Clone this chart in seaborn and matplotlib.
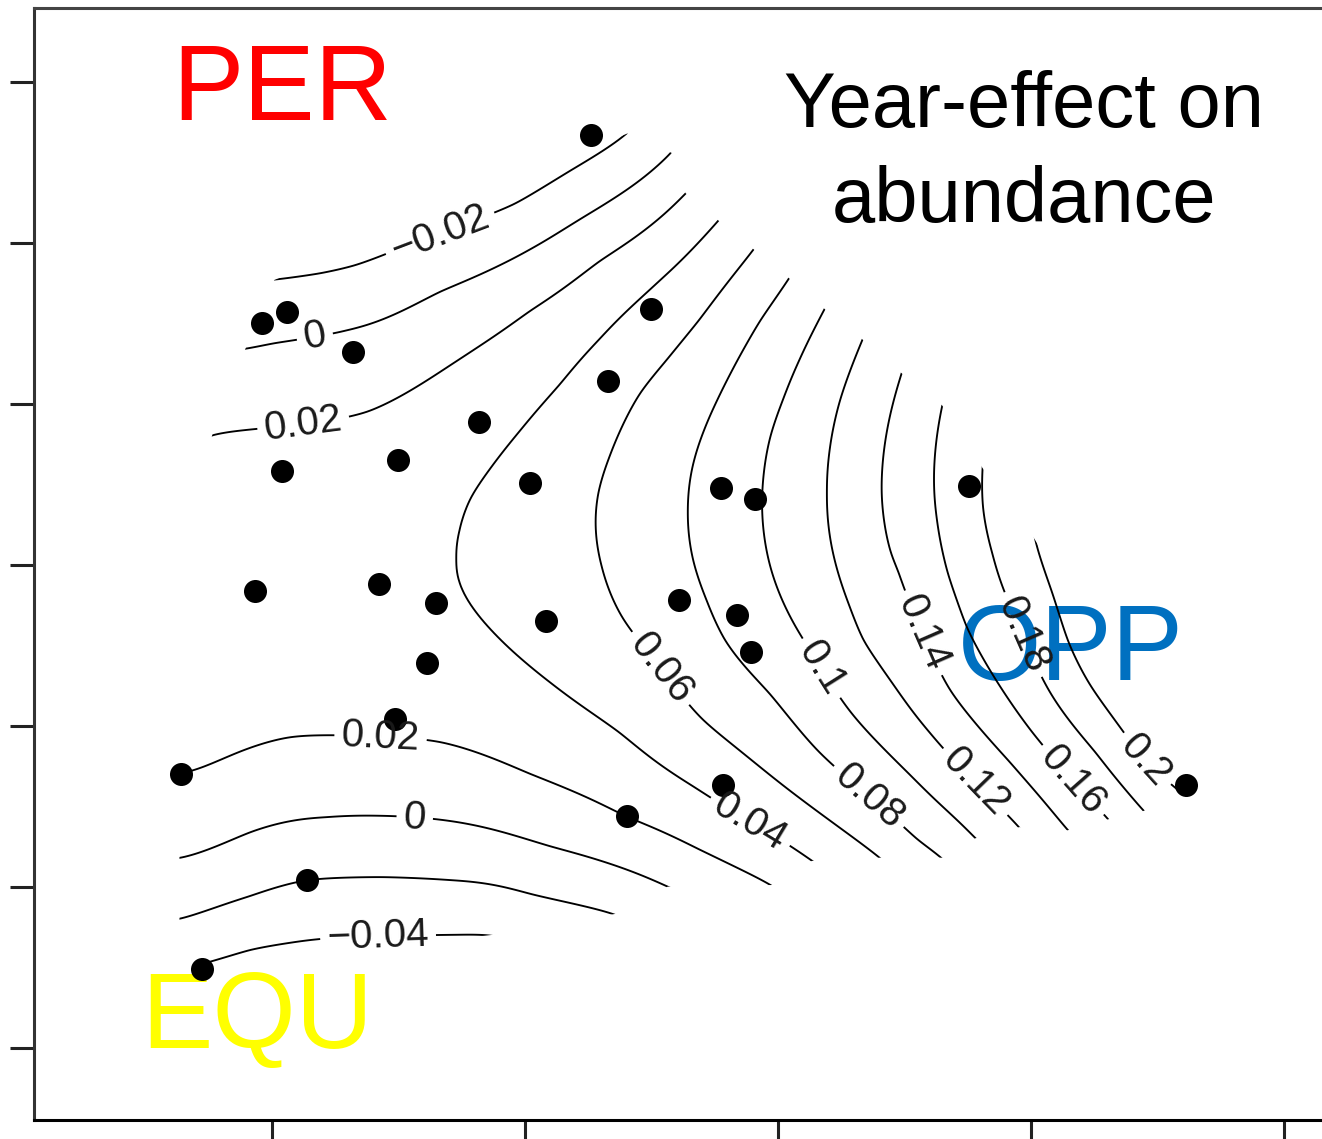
import numpy as np
import pandas as pd
import matplotlib
matplotlib.use("Agg")
import matplotlib.pyplot as plt
from matplotlib.patches import Polygon
import seaborn as sns

# ---------------------------------------------------------------
# Sites in ordination space (axis 1, axis 2)
# ---------------------------------------------------------------
site_x = [-0.148, -0.408, -0.388, -0.336, -0.100, -0.134, -0.236, -0.392,
          -0.300, -0.196, -0.045, -0.018, 0.151, -0.413, -0.315, -0.270,
          -0.183, -0.078, -0.032, -0.021, -0.277, -0.303, -0.472, -0.119,
          -0.043, -0.372, -0.455, 0.323]
site_y = [0.267, 0.150, 0.157, 0.132, 0.159, 0.114, 0.089, 0.058,
          0.065, 0.051, 0.048, 0.041, 0.049, -0.016, -0.012, -0.024,
          -0.035, -0.022, -0.031, -0.054, -0.061, -0.096, -0.130, -0.156,
          -0.137, -0.196, -0.251, -0.137]

# ---------------------------------------------------------------
# Isolines of the smoothed year effect on abundance (x, y) per level
# ---------------------------------------------------------------
levels = [-0.04, -0.02, 0.0, 0.02, 0.04, 0.06, 0.08, 0.10, 0.12, 0.14, 0.16, 0.18, 0.20]

iso_m04 = [(-0.461, -0.249), (-0.417, -0.239), (-0.386, -0.235), (-0.316, -0.231),
           (-0.254, -0.230), (-0.226, -0.230)]
iso_m02_upper = [(-0.398, 0.177), (-0.362, 0.181), (-0.334, 0.186), (-0.267, 0.206),
                 (-0.208, 0.224), (-0.164, 0.245), (-0.119, 0.268)]
iso_m02_lower = [(-0.471, -0.220), (-0.417, -0.206), (-0.374, -0.196), (-0.312, -0.194),
                 (-0.259, -0.196), (-0.194, -0.205), (-0.129, -0.217)]
iso_0_upper = [(-0.421, 0.134), (-0.398, 0.138), (-0.366, 0.142), (-0.340, 0.146),
               (-0.267, 0.170), (-0.196, 0.196), (-0.141, 0.222), (-0.084, 0.256)]
iso_0_lower = [(-0.471, -0.182), (-0.417, -0.166), (-0.357, -0.157), (-0.315, -0.156),
               (-0.287, -0.157), (-0.261, -0.159), (-0.180, -0.175), (-0.087, -0.200)]
iso_02_upper = [(-0.447, 0.081), (-0.429, 0.083), (-0.378, 0.087), (-0.324, 0.095),
                (-0.259, 0.124), (-0.196, 0.158), (-0.141, 0.189), (-0.073, 0.231)]
iso_02_lower = [(-0.472, -0.130), (-0.425, -0.116), (-0.386, -0.107), (-0.362, -0.106),
                (-0.314, -0.107), (-0.267, -0.110), (-0.196, -0.130), (-0.119, -0.157),
                (-0.062, -0.177), (-0.005, -0.199)]
iso_04 = [(-0.047, 0.214), (-0.093, 0.177), (-0.141, 0.140), (-0.172, 0.112),
          (-0.204, 0.083), (-0.228, 0.059), (-0.243, 0.042), (-0.251, 0.022),
          (-0.253, 0.004), (-0.249, -0.016), (-0.237, -0.031), (-0.212, -0.052),
          (-0.180, -0.073), (-0.125, -0.104), (-0.066, -0.138), (-0.022, -0.160),
          (0.027, -0.184)]
iso_06 = [(-0.019, 0.196), (-0.062, 0.152), (-0.088, 0.127), (-0.109, 0.107),
          (-0.133, 0.067), (-0.142, 0.045), (-0.144, 0.024), (-0.139, -0.001),
          (-0.123, -0.033), (-0.092, -0.064), (-0.060, -0.096), (0.009, -0.140),
          (0.081, -0.182)]
iso_08 = [(0.009, 0.178), (-0.014, 0.152), (-0.032, 0.127), (-0.048, 0.102),
          (-0.059, 0.082), (-0.068, 0.059), (-0.071, 0.034), (-0.067, 0.003),
          (-0.056, -0.022), (-0.042, -0.047), (-0.006, -0.080), (0.032, -0.116),
          (0.072, -0.144), (0.110, -0.171), (0.130, -0.182)]
iso_10 = [(0.037, 0.159), (0.017, 0.127), (0.004, 0.102), (-0.006, 0.080),
          (-0.011, 0.057), (-0.012, 0.028), (-0.006, -0.001), (0.013, -0.037),
          (0.035, -0.064), (0.058, -0.092), (0.104, -0.130), (0.156, -0.170)]
iso_12 = [(0.067, 0.140), (0.049, 0.102), (0.041, 0.071), (0.039, 0.045),
          (0.045, 0.003), (0.057, -0.026), (0.067, -0.047), (0.092, -0.075),
          (0.120, -0.104), (0.156, -0.135), (0.191, -0.163)]
iso_14 = [(0.098, 0.119), (0.087, 0.086), (0.082, 0.045), (0.089, 0.007),
          (0.096, -0.004), (0.116, -0.042), (0.136, -0.078), (0.183, -0.122),
          (0.229, -0.165)]
iso_16 = [(0.130, 0.099), (0.124, 0.065), (0.126, 0.028), (0.134, -0.005),
          (0.149, -0.039), (0.172, -0.071), (0.201, -0.104), (0.233, -0.134),
          (0.262, -0.158)]
iso_18 = [(0.162, 0.060), (0.162, 0.036), (0.170, 0.007), (0.195, -0.043),
          (0.215, -0.079), (0.251, -0.116), (0.289, -0.153)]
iso_20 = [(0.203, 0.016), (0.217, -0.017), (0.229, -0.047), (0.247, -0.075),
          (0.266, -0.096), (0.290, -0.122), (0.320, -0.142)]

# effect along the ridge between the two 0.02 isolines (x, y, effect)
ridge = [(-0.457, -0.016, 0.032), (-0.378, -0.016, 0.035), (-0.307, -0.012, 0.038)]

# area covered by the sites, where the smooth is shown
fit_region = [(-0.398, 0.177), (-0.119, 0.268), (-0.084, 0.256), (-0.073, 0.231),
              (-0.047, 0.214), (-0.019, 0.196), (0.009, 0.178), (0.037, 0.159),
              (0.067, 0.140), (0.098, 0.119), (0.130, 0.099), (0.162, 0.060),
              (0.203, 0.016), (0.320, -0.142), (0.289, -0.153), (0.262, -0.158),
              (0.229, -0.165), (0.191, -0.163), (0.156, -0.170), (0.130, -0.182),
              (0.081, -0.182), (0.027, -0.184), (-0.005, -0.199), (-0.087, -0.200),
              (-0.129, -0.217), (-0.226, -0.230), (-0.461, -0.250), (-0.473, -0.221),
              (-0.473, 0.003), (-0.447, 0.081), (-0.421, 0.134)]

# where each isoline carries its value
label_at = [(-0.316, -0.231), (-0.267, 0.206), (-0.366, 0.142), (-0.287, -0.157),
            (-0.375, 0.087), (-0.314, -0.107), (-0.022, -0.160), (-0.092, -0.064),
            (0.072, -0.144), (0.035, -0.064), (0.156, -0.135), (0.116, -0.042),
            (0.233, -0.134), (0.195, -0.043), (0.290, -0.122)]

# ---------------------------------------------------------------
# Build the sample table and the thin-plate surface
# ---------------------------------------------------------------
traces = [(-0.04, iso_m04), (-0.02, iso_m02_upper), (-0.02, iso_m02_lower),
          (0.0, iso_0_upper), (0.0, iso_0_lower), (0.02, iso_02_upper),
          (0.02, iso_02_lower), (0.04, iso_04), (0.06, iso_06), (0.08, iso_08),
          (0.10, iso_10), (0.12, iso_12), (0.14, iso_14), (0.16, iso_16),
          (0.18, iso_18), (0.20, iso_20)]
rows = [(x, y, lv) for lv, pts in traces for x, y in pts] + ridge
samples = pd.DataFrame(rows, columns=["x", "y", "effect"])


def thin_plate(xs, ys, zs, lam=3e-4):
    n = len(xs)
    r = np.hypot(xs[:, None] - xs[None, :], ys[:, None] - ys[None, :])
    K = np.where(r > 0, r ** 2 * np.log(np.where(r > 0, r, 1.0)), 0.0)
    A = np.zeros((n + 3, n + 3))
    A[:n, :n] = K + lam * np.eye(n)
    A[:n, n] = 1.0
    A[:n, n + 1] = xs
    A[:n, n + 2] = ys
    A[n:, :n] = A[:n, n:].T
    sol = np.linalg.solve(A, np.r_[zs, 0.0, 0.0, 0.0])
    w, a = sol[:n], sol[n:]

    def evaluate(qx, qy):
        fx, fy = qx.ravel(), qy.ravel()
        out = np.empty(fx.size)
        step = 4000
        for s in range(0, fx.size, step):
            ex, ey = fx[s:s + step], fy[s:s + step]
            rr = np.hypot(ex[:, None] - xs[None, :], ey[:, None] - ys[None, :])
            kk = np.where(rr > 0, rr ** 2 * np.log(np.where(rr > 0, rr, 1.0)), 0.0)
            out[s:s + step] = kk @ w + a[0] + a[1] * ex + a[2] * ey
        return out.reshape(qx.shape)

    return evaluate


surface = thin_plate(samples["x"].to_numpy(), samples["y"].to_numpy(),
                     samples["effect"].to_numpy())
gx, gy = np.meshgrid(np.linspace(-0.50, 0.36, 330), np.linspace(-0.28, 0.30, 260))
gz = surface(gx, gy)

# ---------------------------------------------------------------
# Figure
# ---------------------------------------------------------------
sns.set_theme(style="white")
plt.rcParams["font.family"] = ["Liberation Sans", "DejaVu Sans"]
plt.rcParams["contour.negative_linestyle"] = "solid"

W, H = 1322, 1139
fig = plt.figure(figsize=(W / 100, H / 100), dpi=100)
ax = fig.add_axes([34 / W, 19 / H, 1313 / W, 1112 / H])
ax.set_xlim(-0.588, 0.450)
ax.set_ylim(-0.345, 0.346)

region_patch = Polygon(fit_region, closed=True, transform=ax.transData,
                       facecolor="none", edgecolor="none")
ax.add_patch(region_patch)

cs = ax.contour(gx, gy, gz, levels=levels, colors="black", linewidths=1.35,
                linestyles="solid", zorder=2)
cs.set_clip_path(region_patch)


def fmt_level(v):
    v = round(v, 2) + 0.0
    return f"{v:g}".replace("-", "\u2212")


ax.clabel(cs, levels=levels, fmt=fmt_level, manual=label_at, inline=True,
          inline_spacing=7, fontsize=29, colors="#1a1a1a")

sites = pd.DataFrame({"axis1": site_x, "axis2": site_y})
sns.scatterplot(data=sites, x="axis1", y="axis2", color="black", s=275,
                linewidth=0, ax=ax, zorder=3, legend=False)

# group labels and title
tf = fig.transFigure
ax.text(172 / W, 1 - 120 / H, "PER", transform=tf, fontsize=77, color="#FF0000",
        ha="left", va="baseline", zorder=1.5)
ax.text(141 / W, 1 - 1048 / H, "EQU", transform=tf, fontsize=77, color="#FFFF00",
        ha="left", va="baseline", zorder=1.5)
ax.text(958 / W, 1 - 680 / H, "OPP", transform=tf, fontsize=77, color="#0070C0",
        ha="left", va="baseline", zorder=1.5)
ax.text(1024 / W, 1 - 127 / H, "Year-effect on", transform=tf, fontsize=56,
        color="black", ha="center", va="baseline", zorder=1.5)
ax.text(1024 / W, 1 - 222 / H, "abundance", transform=tf, fontsize=56,
        color="black", ha="center", va="baseline", zorder=1.5)

# axes frame and ticks
ax.set_xticks([-0.4, -0.2, 0.0, 0.2, 0.4])
ax.set_yticks([-0.3, -0.2, -0.1, 0.0, 0.1, 0.2, 0.3])
ax.set_xticklabels([])
ax.set_yticklabels([])
ax.set_xlabel("")
ax.set_ylabel("")
ax.tick_params(axis="both", direction="out", length=17, width=2.2, color="#222222",
               left=True, bottom=True)
for side in ["top", "left", "bottom", "right"]:
    ax.spines[side].set_linewidth(2.2)
ax.spines["top"].set_color("#444444")
ax.spines["left"].set_color("#333333")
ax.spines["bottom"].set_color("black")
ax.spines["right"].set_visible(False)
ax.grid(False)
ax.set_facecolor("white")

fig.savefig("out.png", dpi=100, facecolor="white")
